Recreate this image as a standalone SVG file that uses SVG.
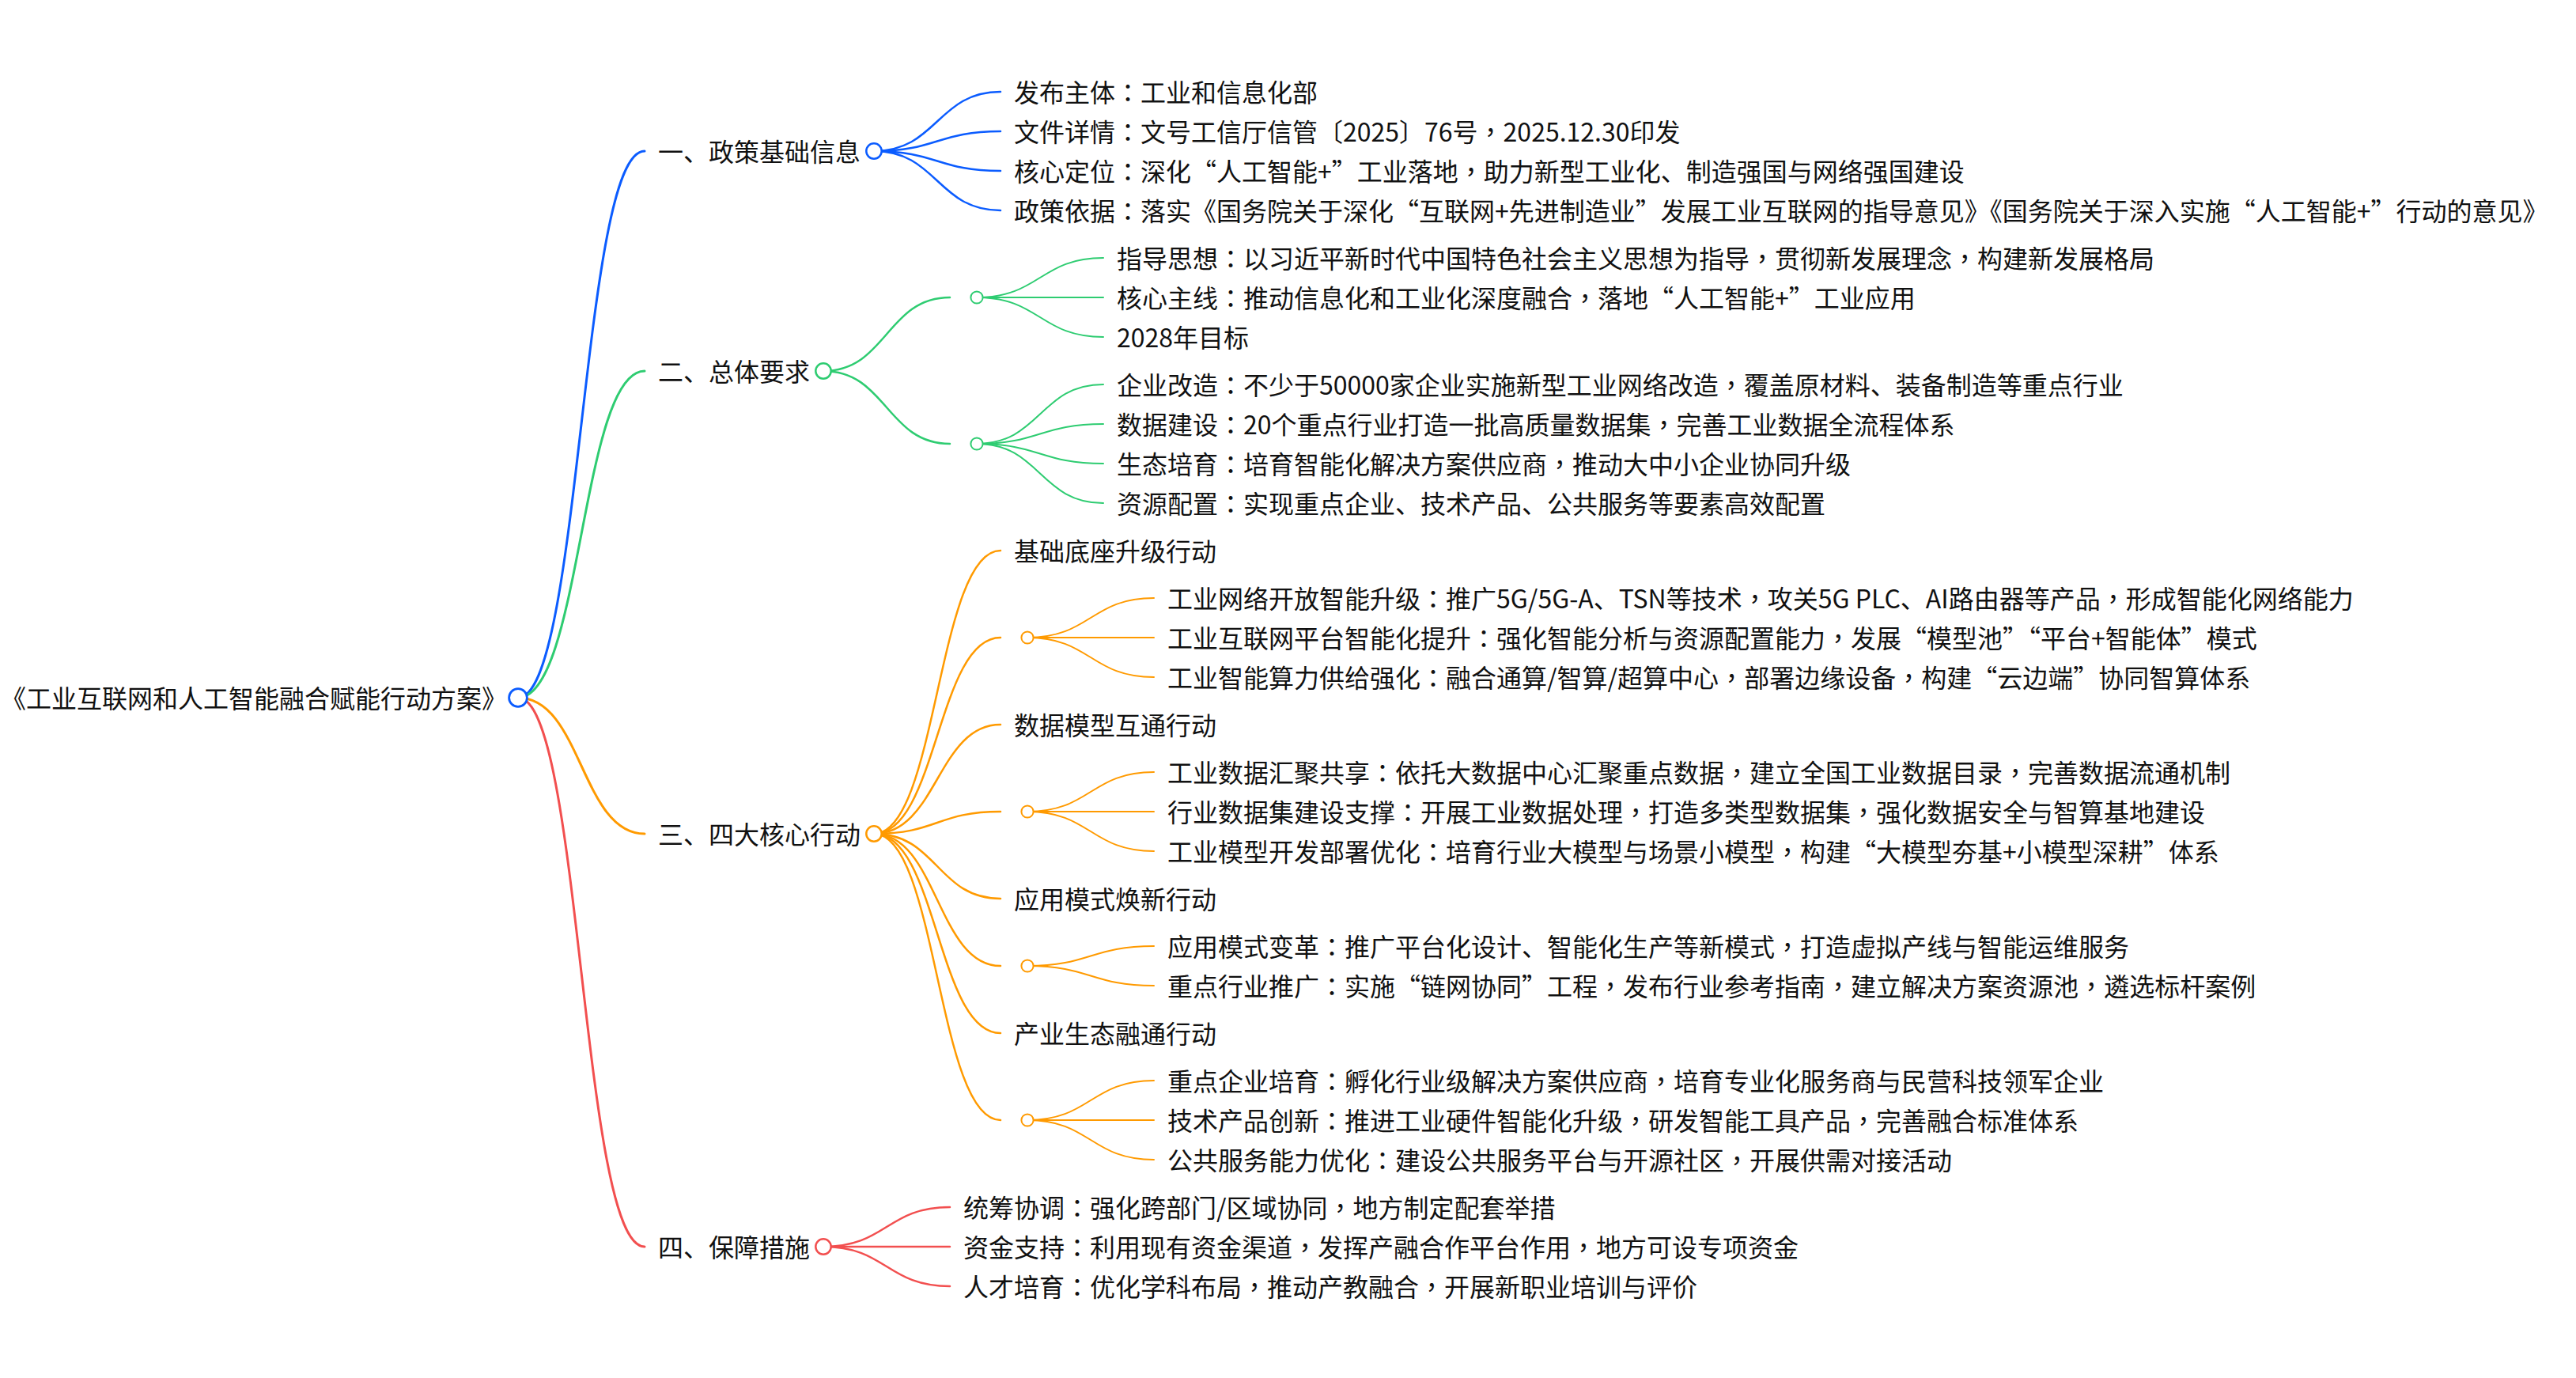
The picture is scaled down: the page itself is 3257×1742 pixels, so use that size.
<svg xmlns="http://www.w3.org/2000/svg" width="3257" height="1742" viewBox="0 0 3257 1742">
<style>
text{font-family:"Noto Sans CJK SC","Microsoft YaHei","Noto Sans",sans-serif;font-size:32px;fill:#111}
.p{font-family:"Noto Sans CJK TC","Noto Sans CJK SC",sans-serif}
.lk{fill:none;stroke-linecap:round}
.d0{stroke-width:3}
.d1{stroke-width:2.5}
.d2{stroke-width:2}
.b{stroke:#0b5cff}
.g{stroke:#2ecc71}
.o{stroke:#ff9a00}
.r{stroke:#f24f4f}
circle{fill:#fff}
.c0{stroke-width:2.8}
.c1{stroke-width:2.5}
.c2{stroke-width:2}
</style>
<rect width="3257" height="1742" fill="#fff"/>
<g id="connectors">
<path class="lk d0 b" d="M655,882 C735,882 735,191 815,191"/>
<path class="lk d0 g" d="M655,882 C735,882 735,469 815,469"/>
<path class="lk d0 o" d="M655,882 C735,882 735,1054 815,1054"/>
<path class="lk d0 r" d="M655,882 C735,882 735,1576 815,1576"/>
<path class="lk d1 b" d="M1105,191 C1185,191 1185,116 1265,116"/>
<path class="lk d1 b" d="M1105,191 C1185,191 1185,166 1265,166"/>
<path class="lk d1 b" d="M1105,191 C1185,191 1185,216 1265,216"/>
<path class="lk d1 b" d="M1105,191 C1185,191 1185,266 1265,266"/>
<path class="lk d1 g" d="M1041,469 C1121,469 1121,376 1201,376"/>
<path class="lk d1 g" d="M1041,469 C1121,469 1121,561 1201,561"/>
<path class="lk d2 g" d="M1235,376 C1315,376 1315,326 1395,326"/>
<path class="lk d2 g" d="M1235,376 C1315,376 1315,376 1395,376"/>
<path class="lk d2 g" d="M1235,376 C1315,376 1315,426 1395,426"/>
<path class="lk d2 g" d="M1235,561 C1315,561 1315,486 1395,486"/>
<path class="lk d2 g" d="M1235,561 C1315,561 1315,536 1395,536"/>
<path class="lk d2 g" d="M1235,561 C1315,561 1315,586 1395,586"/>
<path class="lk d2 g" d="M1235,561 C1315,561 1315,636 1395,636"/>
<path class="lk d1 o" d="M1105,1054 C1185,1054 1185,696 1265,696"/>
<path class="lk d1 o" d="M1105,1054 C1185,1054 1185,806 1265,806"/>
<path class="lk d1 o" d="M1105,1054 C1185,1054 1185,916 1265,916"/>
<path class="lk d1 o" d="M1105,1054 C1185,1054 1185,1026 1265,1026"/>
<path class="lk d1 o" d="M1105,1054 C1185,1054 1185,1136 1265,1136"/>
<path class="lk d1 o" d="M1105,1054 C1185,1054 1185,1221 1265,1221"/>
<path class="lk d1 o" d="M1105,1054 C1185,1054 1185,1306 1265,1306"/>
<path class="lk d1 o" d="M1105,1054 C1185,1054 1185,1416 1265,1416"/>
<path class="lk d2 o" d="M1299,806 C1379,806 1379,756 1459,756"/>
<path class="lk d2 o" d="M1299,806 C1379,806 1379,806 1459,806"/>
<path class="lk d2 o" d="M1299,806 C1379,806 1379,856 1459,856"/>
<path class="lk d2 o" d="M1299,1026 C1379,1026 1379,976 1459,976"/>
<path class="lk d2 o" d="M1299,1026 C1379,1026 1379,1026 1459,1026"/>
<path class="lk d2 o" d="M1299,1026 C1379,1026 1379,1076 1459,1076"/>
<path class="lk d2 o" d="M1299,1221 C1379,1221 1379,1196 1459,1196"/>
<path class="lk d2 o" d="M1299,1221 C1379,1221 1379,1246 1459,1246"/>
<path class="lk d2 o" d="M1299,1416 C1379,1416 1379,1366 1459,1366"/>
<path class="lk d2 o" d="M1299,1416 C1379,1416 1379,1416 1459,1416"/>
<path class="lk d2 o" d="M1299,1416 C1379,1416 1379,1466 1459,1466"/>
<path class="lk d1 r" d="M1041,1576 C1121,1576 1121,1526 1201,1526"/>
<path class="lk d1 r" d="M1041,1576 C1121,1576 1121,1576 1201,1576"/>
<path class="lk d1 r" d="M1041,1576 C1121,1576 1121,1626 1201,1626"/>
</g>
<g id="root"><circle class="c0 b" cx="655" cy="882" r="11.4"/><text x="641" y="895" text-anchor="end">《工业互联网和人工智能融合赋能行动方案》</text></g>
<g id="n1"><circle class="c1 b" cx="1105" cy="191" r="9.7"/><text x="832" y="204">一、政策基础信息</text></g>
<g id="n1-1"><text x="1282" y="129">发布主体<tspan class="p">：</tspan>工业和信息化部</text></g>
<g id="n1-2"><text x="1282" y="179">文件详情<tspan class="p">：</tspan>文号工信厅信管〔2025〕76号<tspan class="p">，</tspan>2025.12.30印发</text></g>
<g id="n1-3"><text x="1282" y="229">核心定位<tspan class="p">：</tspan>深化“人工智能+”工业落地<tspan class="p">，</tspan>助力新型工业化、制造强国与网络强国建设</text></g>
<g id="n1-4"><text x="1282" y="279">政策依据<tspan class="p">：</tspan>落实《国务院关于深化“互联网+先进制造业”发展工业互联网的指导意见》《国务院关于深入实施“人工智能+”行动的意见》</text></g>
<g id="n2"><circle class="c1 g" cx="1041" cy="469" r="9.7"/><text x="832" y="482">二、总体要求</text></g>
<g id="n2-a"><circle class="c2 g" cx="1235" cy="376" r="7.6"/></g>
<g id="n2-a1"><text x="1412" y="339">指导思想<tspan class="p">：</tspan>以习近平新时代中国特色社会主义思想为指导<tspan class="p">，</tspan>贯彻新发展理念<tspan class="p">，</tspan>构建新发展格局</text></g>
<g id="n2-a2"><text x="1412" y="389">核心主线<tspan class="p">：</tspan>推动信息化和工业化深度融合<tspan class="p">，</tspan>落地“人工智能+”工业应用</text></g>
<g id="n2-a3"><text x="1412" y="439">2028年目标</text></g>
<g id="n2-b"><circle class="c2 g" cx="1235" cy="561" r="7.6"/></g>
<g id="n2-b1"><text x="1412" y="499">企业改造<tspan class="p">：</tspan>不少于50000家企业实施新型工业网络改造<tspan class="p">，</tspan>覆盖原材料、装备制造等重点行业</text></g>
<g id="n2-b2"><text x="1412" y="549">数据建设<tspan class="p">：</tspan>20个重点行业打造一批高质量数据集<tspan class="p">，</tspan>完善工业数据全流程体系</text></g>
<g id="n2-b3"><text x="1412" y="599">生态培育<tspan class="p">：</tspan>培育智能化解决方案供应商<tspan class="p">，</tspan>推动大中小企业协同升级</text></g>
<g id="n2-b4"><text x="1412" y="649">资源配置<tspan class="p">：</tspan>实现重点企业、技术产品、公共服务等要素高效配置</text></g>
<g id="n3"><circle class="c1 o" cx="1105" cy="1054" r="9.7"/><text x="832" y="1067">三、四大核心行动</text></g>
<g id="n3-1"><text x="1282" y="709">基础底座升级行动</text></g>
<g id="n3-1s"><circle class="c2 o" cx="1299" cy="806" r="7.6"/></g>
<g id="n3-1a"><text x="1476" y="769">工业网络开放智能升级<tspan class="p">：</tspan>推广5G/5G-A、TSN等技术<tspan class="p">，</tspan>攻关5G PLC、AI路由器等产品<tspan class="p">，</tspan>形成智能化网络能力</text></g>
<g id="n3-1b"><text x="1476" y="819">工业互联网平台智能化提升<tspan class="p">：</tspan>强化智能分析与资源配置能力<tspan class="p">，</tspan>发展“模型池”“平台+智能体”模式</text></g>
<g id="n3-1c"><text x="1476" y="869">工业智能算力供给强化<tspan class="p">：</tspan>融合通算/智算/超算中心<tspan class="p">，</tspan>部署边缘设备<tspan class="p">，</tspan>构建“云边端”协同智算体系</text></g>
<g id="n3-2"><text x="1282" y="929">数据模型互通行动</text></g>
<g id="n3-2s"><circle class="c2 o" cx="1299" cy="1026" r="7.6"/></g>
<g id="n3-2a"><text x="1476" y="989">工业数据汇聚共享<tspan class="p">：</tspan>依托大数据中心汇聚重点数据<tspan class="p">，</tspan>建立全国工业数据目录<tspan class="p">，</tspan>完善数据流通机制</text></g>
<g id="n3-2b"><text x="1476" y="1039">行业数据集建设支撑<tspan class="p">：</tspan>开展工业数据处理<tspan class="p">，</tspan>打造多类型数据集<tspan class="p">，</tspan>强化数据安全与智算基地建设</text></g>
<g id="n3-2c"><text x="1476" y="1089">工业模型开发部署优化<tspan class="p">：</tspan>培育行业大模型与场景小模型<tspan class="p">，</tspan>构建“大模型夯基+小模型深耕”体系</text></g>
<g id="n3-3"><text x="1282" y="1149">应用模式焕新行动</text></g>
<g id="n3-3s"><circle class="c2 o" cx="1299" cy="1221" r="7.6"/></g>
<g id="n3-3a"><text x="1476" y="1209">应用模式变革<tspan class="p">：</tspan>推广平台化设计、智能化生产等新模式<tspan class="p">，</tspan>打造虚拟产线与智能运维服务</text></g>
<g id="n3-3b"><text x="1476" y="1259">重点行业推广<tspan class="p">：</tspan>实施“链网协同”工程<tspan class="p">，</tspan>发布行业参考指南<tspan class="p">，</tspan>建立解决方案资源池<tspan class="p">，</tspan>遴选标杆案例</text></g>
<g id="n3-4"><text x="1282" y="1319">产业生态融通行动</text></g>
<g id="n3-4s"><circle class="c2 o" cx="1299" cy="1416" r="7.6"/></g>
<g id="n3-4a"><text x="1476" y="1379">重点企业培育<tspan class="p">：</tspan>孵化行业级解决方案供应商<tspan class="p">，</tspan>培育专业化服务商与民营科技领军企业</text></g>
<g id="n3-4b"><text x="1476" y="1429">技术产品创新<tspan class="p">：</tspan>推进工业硬件智能化升级<tspan class="p">，</tspan>研发智能工具产品<tspan class="p">，</tspan>完善融合标准体系</text></g>
<g id="n3-4c"><text x="1476" y="1479">公共服务能力优化<tspan class="p">：</tspan>建设公共服务平台与开源社区<tspan class="p">，</tspan>开展供需对接活动</text></g>
<g id="n4"><circle class="c1 r" cx="1041" cy="1576" r="9.7"/><text x="832" y="1589">四、保障措施</text></g>
<g id="n4-1"><text x="1218" y="1539">统筹协调<tspan class="p">：</tspan>强化跨部门/区域协同<tspan class="p">，</tspan>地方制定配套举措</text></g>
<g id="n4-2"><text x="1218" y="1589">资金支持<tspan class="p">：</tspan>利用现有资金渠道<tspan class="p">，</tspan>发挥产融合作平台作用<tspan class="p">，</tspan>地方可设专项资金</text></g>
<g id="n4-3"><text x="1218" y="1639">人才培育<tspan class="p">：</tspan>优化学科布局<tspan class="p">，</tspan>推动产教融合<tspan class="p">，</tspan>开展新职业培训与评价</text></g>
</svg>
